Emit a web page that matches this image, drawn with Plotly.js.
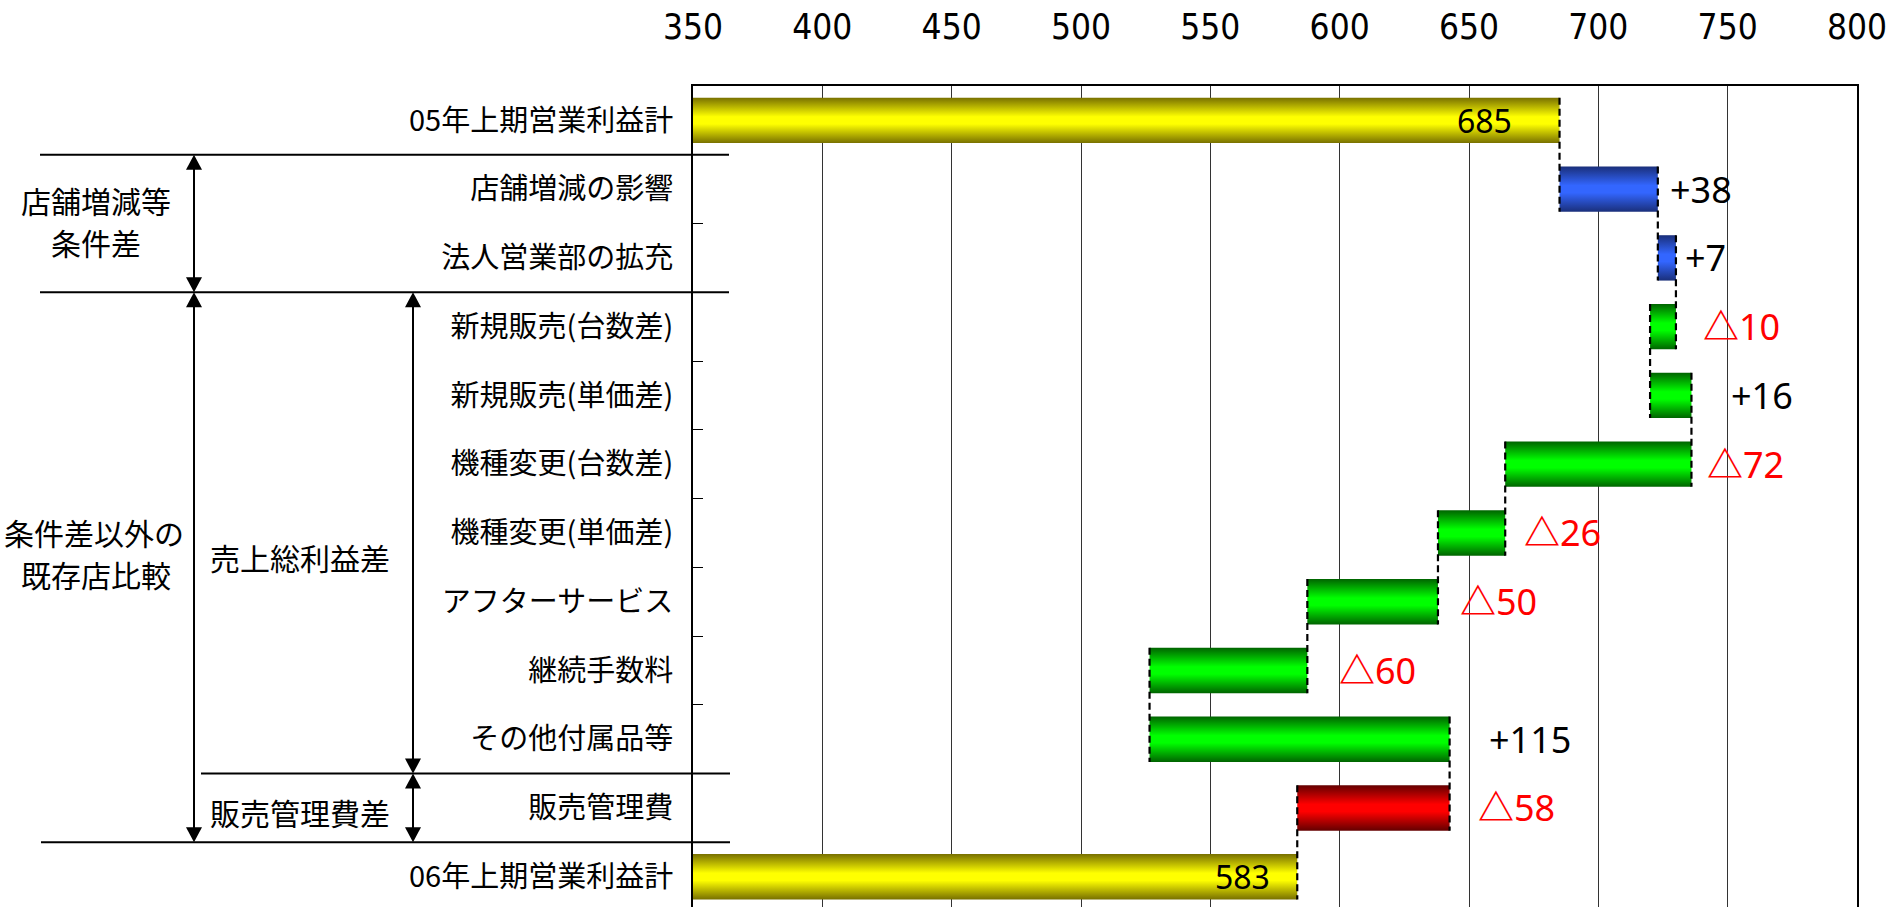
<!DOCTYPE html>
<html>
<head>
<meta charset="utf-8">
<script src="https://cdn.plot.ly/plotly-3.0.1.min.js"></script>
<style>html,body{margin:0;padding:0;background:#fff;}#chart{width:1890px;height:907px;}</style>
</head>
<body>
<div id="chart"></div>
<script>
// ---- data ----
const categories = ['05年上期営業利益計','店舗増減の影響','法人営業部の拡充','新規販売(台数差)','新規販売(単価差)','機種変更(台数差)','機種変更(単価差)','アフターサービス','継続手数料','その他付属品等','販売管理費','06年上期営業利益計'];
const fromVals = [0, 685, 723, 730, 720, 736, 664, 638, 587.5, 526.5, 642.5, 0];
const toVals   = [685, 723, 730, 720, 736, 664, 638, 587.5, 526.5, 642.5, 583.6, 583.6];
const valueLabels = ['685','+38','+7','△10','+16','△72','△26','△50','△60','+115','△58','583'];
const barKinds = ['total','up','up','gross','gross','gross','gross','gross','gross','gross','cost','total'];
const xTickVals = [350,400,450,500,550,600,650,700,750,800];
const groupLines = ['店舗増減等','条件差','条件差以外の','既存店比較','売上総利益差','販売管理費差'];

// ---- layout / style ----
const W = 1890, H = 907, ML = 693, MR = 33, MT = 86, MB = 0;
const PW = W - ML - MR, PH = H - MT - MB;
const Y_RANGE = [11.44, -0.5];
const ROW_PX = PH / (Y_RANGE[0] - Y_RANGE[1]);
const HALF = 0.33;
const gradients = {
  total: [[0,'#787000'],[0.42,'#ffff00'],[0.58,'#ffff00'],[1,'#787000']],
  up:    [[0,'#1a2f7a'],[0.42,'#3366ff'],[0.58,'#3366ff'],[1,'#1a2f7a']],
  gross: [[0,'#006400'],[0.42,'#00ff00'],[0.58,'#00ff00'],[1,'#006400']],
  cost:  [[0,'#640000'],[0.42,'#ff0000'],[0.58,'#ff0000'],[1,'#640000']]
};
const labelGap = [-46, 10, 7, 25, 38, 14, 17, 20, 30, 37, 26, -25];
const labelSize = [32, 36, 36, 36, 36, 36, 36, 36, 36, 36, 36, 32];
const groupPos = [[96, 200], [96, 242], [94, 532], [96, 574], [300, 557], [300, 812]];

const px2x = px => (px - ML) / PW;
const py2y = py => 1 - (py - MT) / PH;
const rowPy = r => MT + (r - Y_RANGE[1]) * ROW_PX;

const traces = [];
categories.forEach((c, i) => {
  const a = fromVals[i], b = toVals[i];
  traces.push({
    type: 'scatter', mode: 'lines',
    x: [a, b, b, a, a],
    y: [i - HALF, i - HALF, i + HALF, i + HALF, i - HALF],
    fill: 'toself',
    fillgradient: {type: 'vertical', colorscale: gradients[barKinds[i]]},
    line: {width: 0, color: 'rgba(0,0,0,0)'},
    hoverinfo: 'skip', showlegend: false
  });
});
// dashed connectors between consecutive bars
const cx = [], cy = [];
for (let i = 0; i < categories.length - 1; i++) {
  const v = toVals[i];
  cx.push(v, v, null);
  cy.push(i - HALF, i + 1 + HALF, null);
}
traces.push({type: 'scatter', mode: 'lines', x: cx, y: cy,
  line: {color: '#000', width: 2.2, dash: '7px,4px'}, hoverinfo: 'skip', showlegend: false});

const annotations = [];
valueLabels.forEach((t, i) => {
  const end = Math.max(fromVals[i], toVals[i]);
  const g = labelGap[i];
  const neg = t.startsWith('△');
  annotations.push({
    x: end, y: i, xref: 'x', yref: 'y',
    text: neg ? '<b>△</b>' + t.slice(1) : t, showarrow: false,
    xanchor: g < 0 ? 'right' : 'left', yanchor: 'middle', xshift: g,
    font: {family: 'Noto Sans, Noto Sans CJK JP, sans-serif', size: labelSize[i], color: neg ? '#ff0000' : '#000'}
  });
});
groupLines.forEach((t, i) => {
  annotations.push({
    x: px2x(groupPos[i][0]), y: py2y(groupPos[i][1]), xref: 'paper', yref: 'paper',
    text: t, showarrow: false, xanchor: 'center', yanchor: 'middle', align: 'center', borderpad: 0,
    font: {family: 'Noto Sans CJK JP, sans-serif', size: 30, color: '#000'}
  });
});

const shapes = [];
function hline(b, x0px, x1px) {
  shapes.push({type: 'line', xref: 'paper', yref: 'paper', x0: px2x(x0px), x1: px2x(x1px),
    y0: py2y(rowPy(b)), y1: py2y(rowPy(b)), line: {color: '#000', width: 2}});
}
hline(0.5, 40, 729);
hline(2.5, 40, 729);
hline(9.5, 201, 730);
hline(10.5, 41, 730);
function darrow(xpx, b0, b1) {
  const t = rowPy(b0), bt = rowPy(b1), hw = 8, hl = 15;
  shapes.push({type: 'line', xref: 'paper', yref: 'paper', x0: px2x(xpx), x1: px2x(xpx),
    y0: py2y(t + 4), y1: py2y(bt - 4), line: {color: '#000', width: 2}});
  const tri = (tipY, baseY) => 'M' + px2x(xpx) + ',' + py2y(tipY) + ' L' + px2x(xpx - hw) + ',' + py2y(baseY) +
    ' L' + px2x(xpx + hw) + ',' + py2y(baseY) + ' Z';
  shapes.push({type: 'path', xref: 'paper', yref: 'paper', path: tri(t, t + hl), fillcolor: '#000', line: {width: 0}});
  shapes.push({type: 'path', xref: 'paper', yref: 'paper', path: tri(bt, bt - hl), fillcolor: '#000', line: {width: 0}});
}
darrow(194, 0.5, 2.5);
darrow(194, 2.5, 10.5);
darrow(413, 2.5, 9.5);
darrow(413, 9.5, 10.5);

const layout = {
  width: W, height: H,
  margin: {l: ML, r: MR, t: MT, b: MB, pad: 0},
  paper_bgcolor: '#fff', plot_bgcolor: '#fff',
  showlegend: false,
  xaxis: {
    range: [350, 800], side: 'top', tickmode: 'array', tickvals: xTickVals,
    ticktext: xTickVals.map(String),
    showgrid: true, gridcolor: '#333', gridwidth: 1, zeroline: false,
    showline: true, linecolor: '#000', linewidth: 2, ticks: '',
    ticklabelstandoff: 31,
    tickfont: {family: 'Liberation Sans Narrow, DejaVu Sans Condensed, Noto Sans, sans-serif', size: 35, color: '#000'},
    automargin: false, fixedrange: true
  },
  yaxis: {
    range: Y_RANGE, tickmode: 'array', tickvals: categories.map((c, i) => i), ticktext: categories,
    showgrid: false, zeroline: false, showline: true, mirror: true, linecolor: '#000', linewidth: 2,
    ticks: '', ticklabelstandoff: 12,
    minor: {tickmode: 'array', tickvals: categories.slice(1).map((c, i) => i + 0.5), ticks: 'inside', ticklen: 10, tickwidth: 1, tickcolor: '#000', showgrid: false},
    tickfont: {family: 'Noto Sans CJK JP, sans-serif', size: 29, color: '#000'},
    automargin: false, fixedrange: true
  },
  annotations: annotations,
  shapes: shapes
};
Plotly.newPlot('chart', traces, layout, {displayModeBar: false, staticPlot: true});
</script>
</body>
</html>
